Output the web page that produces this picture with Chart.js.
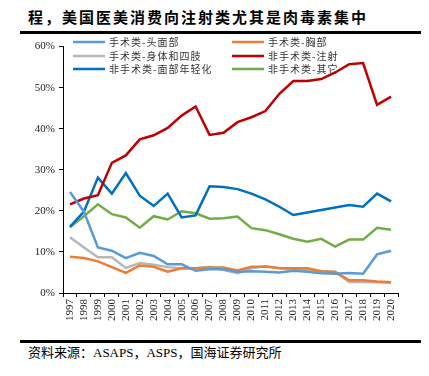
<!DOCTYPE html>
<html>
<head>
<meta charset="utf-8">
<script src="https://cdn.jsdelivr.net/npm/chart.js@4.4.0/dist/chart.umd.min.js"></script>
<style>
  body { margin: 0; width: 429px; height: 376px; background: #fff; position: relative; overflow: hidden; }
  #title { position: absolute; left: 28px; top: 6px; font: bold 15px "Noto Sans CJK SC"; letter-spacing: 2px; color: #000; white-space: nowrap; }
  .rule { position: absolute; left: 20px; width: 401px; height: 3px; background: #000; }
  #box { position: absolute; left: 0; top: 36px; width: 429px; height: 304px; }
  #source { position: absolute; left: 28px; top: 342px; font: 13px "Liberation Serif", "Noto Sans CJK SC"; color: #000; white-space: nowrap; }
</style>
</head>
<body>
<div id="title">程，美国医美消费向注射类尤其是肉毒素集中</div>
<div class="rule" style="top:31px"></div>
<div id="box"><canvas id="chart"></canvas></div>
<div class="rule" style="top:340px"></div>
<div id="source">资料来源：ASAPS，ASPS，国海证券研究所</div>
<script>
// categories
var years = ['1997','1998','1999','2000','2001','2002','2003','2004','2005','2006','2007','2008',
             '2009','2010','2011','2012','2013','2014','2015','2016','2017','2018','2019','2020'];
// y axis ticks (percent)
var yTicks = [0, 10, 20, 30, 40, 50, 60];

// series values, % of procedures
var surgeryHeadFace = [24.6,19.8,11.1,10.3,8.5,9.8,9.0,7.0,7.0,5.4,5.8,5.8,5.1,5.3,5.2,5.0,5.4,5.2,4.8,4.7,4.9,4.7,9.4,10.3];
var surgeryBreast   = [8.8,8.5,7.7,6.3,4.9,6.7,6.4,5.2,6.0,6.0,6.2,6.2,5.5,6.4,6.4,6.1,6.0,6.0,5.3,5.1,3.1,3.1,2.8,2.6];
var surgeryBody     = [13.6,11.1,8.7,8.7,6.1,7.3,6.9,6.3,6.0,6.0,6.3,5.6,4.8,6.0,6.6,6.0,5.6,5.6,5.3,5.2,2.7,2.7,2.6,2.5];
var nonSurgInject   = [21.6,23.0,23.8,31.7,33.5,37.4,38.4,40.2,43.2,45.4,38.5,39.0,41.6,42.8,44.3,48.5,51.6,51.6,52.1,53.7,55.7,56.0,45.8,47.8];
var nonSurgFace     = [16.1,19.8,28.1,24.2,29.2,23.7,21.2,24.2,18.4,18.9,26.0,25.8,25.3,24.2,22.8,21.0,19.0,19.6,20.2,20.8,21.4,21.0,24.2,22.3];
var nonSurgOther    = [16.1,18.7,21.6,19.2,18.4,15.9,18.7,17.9,19.9,19.4,18.1,18.2,18.6,15.8,15.3,14.3,13.2,12.5,13.2,11.3,13.0,13.0,15.9,15.4];

var seriesNames = ['手术类-头面部','手术类-胸部','手术类-身体和四肢','非手术类-注射','非手术类-面部年轻化','非手术类-其它'];
var seriesData = [surgeryHeadFace, surgeryBreast, surgeryBody, nonSurgInject, nonSurgFace, nonSurgOther];
var seriesColors = ['#5B9BD5','#ED7D31','#B7B7B7','#C00000','#0070C0','#70AD47'];

var serif = '"Liberation Serif", "Times New Roman", serif';

// legend in two fixed columns like the original
var gridLegend = {
  id: 'gridLegend',
  afterDraw: function(chart) {
    var ctx = chart.ctx;
    var cols = [73, 232], rows = [6, 20, 33];
    ctx.save();
    ctx.font = '10px "Noto Sans CJK SC"';
    ctx.letterSpacing = '1px';
    ctx.textBaseline = 'middle';
    chart.data.datasets.forEach(function(ds, i) {
      var x = cols[i % 2], y = rows[Math.floor(i / 2)];
      ctx.strokeStyle = ds.borderColor;
      ctx.lineWidth = 2.5;
      ctx.beginPath();
      ctx.moveTo(x, y);
      ctx.lineTo(x + 32, y);
      ctx.stroke();
      ctx.fillStyle = '#333';
      ctx.fillText(ds.label, x + 36, y + 0.5);
    });
    ctx.restore();
  }
};

var ctx = document.getElementById('chart').getContext('2d');
var chart = new Chart(ctx, {
  type: 'line',
  data: {
    labels: years,
    datasets: seriesData.map(function(d, i) {
      return {
        label: seriesNames[i],
        data: d,
        borderColor: seriesColors[i],
        backgroundColor: seriesColors[i],
        borderWidth: 2.5,
        pointRadius: 0,
        tension: 0,
        fill: false
      };
    })
  },
  options: {
    responsive: true,
    maintainAspectRatio: false,
    animation: false,
    layout: { padding: { top: 10, right: 31, left: 0, bottom: 0 } },
    plugins: {
      legend: { display: false },
      tooltip: { enabled: false }
    },
    scales: {
      x: {
        offset: true,
        grid: { drawOnChartArea: false, drawTicks: true, tickLength: 4, color: '#000', offset: true },
        border: { color: '#000', width: 1 },
        ticks: {
          autoSkip: false,
          minRotation: 90,
          maxRotation: 90,
          padding: 2,
          color: '#222',
          font: { family: serif, size: 11 }
        },
        afterFit: function(s) { s.height = 47; }
      },
      y: {
        min: yTicks[0],
        max: yTicks[yTicks.length - 1],
        afterBuildTicks: function(s) { s.ticks = yTicks.map(function(v) { return { value: v }; }); },
        grid: { drawOnChartArea: false, drawTicks: true, tickLength: 4, color: '#000' },
        border: { color: '#000', width: 1 },
        ticks: {
          padding: 4,
          color: '#222',
          font: { family: serif, size: 11 },
          callback: function(v) { return v + '%'; }
        },
        afterFit: function(s) { s.width = 63; }
      }
    }
  },
  plugins: [gridLegend]
});
</script>
</body>
</html>
